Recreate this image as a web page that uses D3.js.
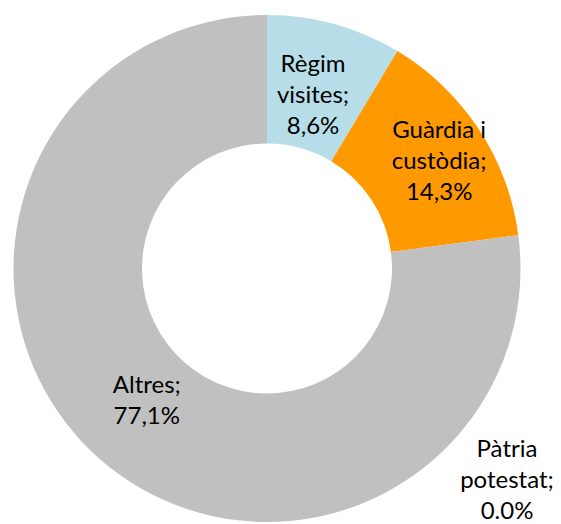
<!DOCTYPE html>
<html><head><meta charset="utf-8">
<script src="https://cdn.jsdelivr.net/npm/d3@7"></script>
<style>html,body{margin:0;padding:0;background:#fff;}svg{display:block;}</style>
</head><body>
<svg id="chart" width="561" height="524"></svg>
<script>
const categories = ["Règim visites", "Guàrdia i custòdia", "Pàtria potestat", "Altres"];
const values = [8.6, 14.3, 0.0, 77.1];
const valueLabels = ["8,6%", "14,3%", "0.0%", "77,1%"];
const labelLines = [["Règim", "visites;"], ["Guàrdia i", "custòdia;"], ["Pàtria", "potestat;"], ["Altres;"]];
const colors = ["#B7DEE8", "#FF9900", "#A6A6A6", "#C0C0C0"];

const W = 561, H = 524, cx = 267, cy = 268.5, R = 253.5, r0 = 125;
const svg = d3.select("#chart");
const g = svg.append("g").attr("transform", `translate(${cx},${cy})`);
const pie = d3.pie().sort(null).value(d => d.v);
const data = categories.map((c, i) => ({c, v: values[i], i}));
const arcs = pie(data);
const arc = d3.arc().innerRadius(r0).outerRadius(R);
g.selectAll("path").data(arcs).enter().append("path")
  .attr("d", arc).attr("fill", d => colors[d.data.i]);

// label placement (layout, not data): radius along mid-angle plus offset
const labelLayout = [
  {r: 180, dx: -2, dy: 0},
  {r: 200, dx: 5, dy: 2},
  {r: null, x: 507, y: 480},
  {r: 190, dx: 5, dy: -11}
];
const lineH = 31;
arcs.forEach((a, k) => {
  const L = labelLayout[k];
  let x, y;
  if (L.r === null) { x = L.x - cx; y = L.y - cy; }
  else {
    const m = (a.startAngle + a.endAngle) / 2;
    x = Math.sin(m) * L.r + L.dx; y = -Math.cos(m) * L.r + L.dy;
  }
  const lines = labelLines[k].concat([valueLabels[k]]);
  const t = g.append("text").attr("text-anchor", "middle")
    .attr("font-family", "Lato, 'Open Sans', sans-serif").attr("font-size", 24)
    .attr("fill", "#000");
  const y0 = y - (lines.length - 1) * lineH / 2;
  lines.forEach((s, j) => {
    t.append("tspan").attr("x", x).attr("y", y0 + j * lineH).attr("dy", "0.35em").text(s);
  });
});
</script>
</body></html>
